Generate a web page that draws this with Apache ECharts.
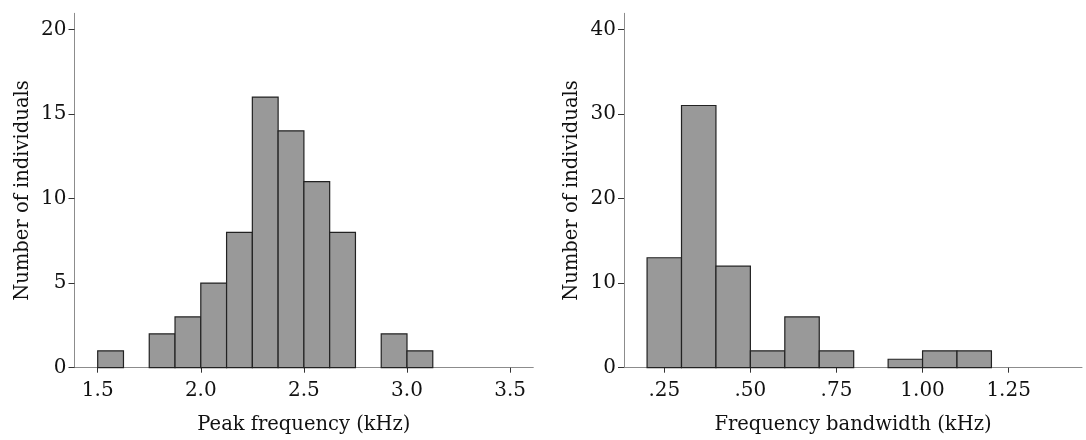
<!DOCTYPE html>
<html>
<head>
<meta charset="utf-8">
<title>Call frequency histograms</title>
<script src="https://cdn.jsdelivr.net/npm/echarts@6/dist/echarts.min.js"></script>
<style>
  html, body { margin: 0; padding: 0; background: #fff; }
  #chart { width: 1086px; height: 440px; }
</style>
</head>
<body>
<div id="chart"></div>
<script>
// Peak frequency histogram (bin start in kHz, bin width 0.125 kHz)
const peakBinStart = [1.5, 1.75, 1.875, 2.0, 2.125, 2.25, 2.375, 2.5, 2.625, 2.875, 3.0];
const peakCounts   = [1, 2, 3, 5, 8, 16, 14, 11, 8, 2, 1];
const peakBinWidth = 0.125;
const peakTicks      = [1.5, 2.0, 2.5, 3.0, 3.5];
const peakTickLabels = ['1.5', '2.0', '2.5', '3.0', '3.5'];
const peakCountTicks = [0, 5, 10, 15, 20];

// Frequency bandwidth histogram (bin start in kHz, bin width 0.1 kHz)
const bwBinStart = [0.2, 0.3, 0.4, 0.5, 0.6, 0.7, 0.9, 1.0, 1.1];
const bwCounts   = [13, 31, 12, 2, 6, 2, 1, 2, 2];
const bwBinWidth = 0.1;
const bwTicks      = [0.25, 0.5, 0.75, 1.0, 1.25];
const bwTickLabels = ['.25', '.50', '.75', '1.00', '1.25'];
const bwCountTicks = [0, 10, 20, 30, 40];

const yTitle = 'Number of individuals';
const FONT = 'DejaVu Serif';
const TEXT = '#111111';

function histData(starts, counts, width) {
  return starts.map((s, i) => [s, s + width, counts[i]]);
}

function renderBin(params, api) {
  const p0 = api.coord([api.value(0), 0]);
  const p1 = api.coord([api.value(1), api.value(2)]);
  return {
    type: 'rect',
    shape: { x: p0[0], y: p1[1], width: p1[0] - p0[0], height: p0[1] - p1[1] },
    style: { fill: '#999999', stroke: '#222222', lineWidth: 1.2 }
  };
}

function xAxis(gridIndex, min, max, ticks, labels, name) {
  return {
    type: 'value', gridIndex, min, max, name,
    nameLocation: 'middle', nameGap: 47,
    nameTextStyle: { fontFamily: FONT, fontSize: 19.5, color: TEXT },
    splitLine: { show: false },
    axisLine: { show: true, lineStyle: { color: '#8c8c8c', width: 1 } },
    axisTick: { show: true, customValues: ticks, length: 5, lineStyle: { color: '#333', width: 1 } },
    axisLabel: {
      customValues: ticks, margin: 13,
      fontFamily: FONT, fontSize: 20, color: TEXT,
      formatter: v => labels[ticks.findIndex(t => Math.abs(t - v) < 1e-9)] ?? ''
    }
  };
}

function yAxis(gridIndex, max, ticks) {
  return {
    type: 'value', gridIndex, min: 0, max, name: yTitle,
    nameLocation: 'middle', nameGap: 42, nameRotate: 90,
    nameTextStyle: { fontFamily: FONT, fontSize: 19.5, color: TEXT },
    splitLine: { show: false },
    axisLine: { show: true, lineStyle: { color: '#8c8c8c', width: 1 } },
    axisTick: { show: true, customValues: ticks, length: 6, lineStyle: { color: '#333', width: 1 } },
    axisLabel: {
      customValues: ticks, margin: 8,
      fontFamily: FONT, fontSize: 20, color: TEXT,
      formatter: v => String(v)
    }
  };
}

const chart = echarts.init(document.getElementById('chart'), null, { renderer: 'canvas' });
chart.setOption({
  animation: false,
  backgroundColor: '#ffffff',
  grid: [
    { left: 74.5, right: 552.7, top: 13.3, bottom: 72.3 },
    { left: 624, right: 4, top: 13.3, bottom: 72.3 }
  ],
  xAxis: [
    xAxis(0, 1.3875, 3.6125, peakTicks, peakTickLabels, 'Peak frequency (kHz)'),
    xAxis(1, 0.133, 1.463, bwTicks, bwTickLabels, 'Frequency bandwidth (kHz)')
  ],
  yAxis: [
    yAxis(0, 20.95, peakCountTicks),
    yAxis(1, 41.9, bwCountTicks)
  ],
  series: [
    {
      type: 'custom', xAxisIndex: 0, yAxisIndex: 0,
      renderItem: renderBin, encode: { x: [0, 1], y: 2 },
      data: histData(peakBinStart, peakCounts, peakBinWidth)
    },
    {
      type: 'custom', xAxisIndex: 1, yAxisIndex: 1,
      renderItem: renderBin, encode: { x: [0, 1], y: 2 },
      data: histData(bwBinStart, bwCounts, bwBinWidth)
    }
  ]
});
</script>
</body>
</html>
